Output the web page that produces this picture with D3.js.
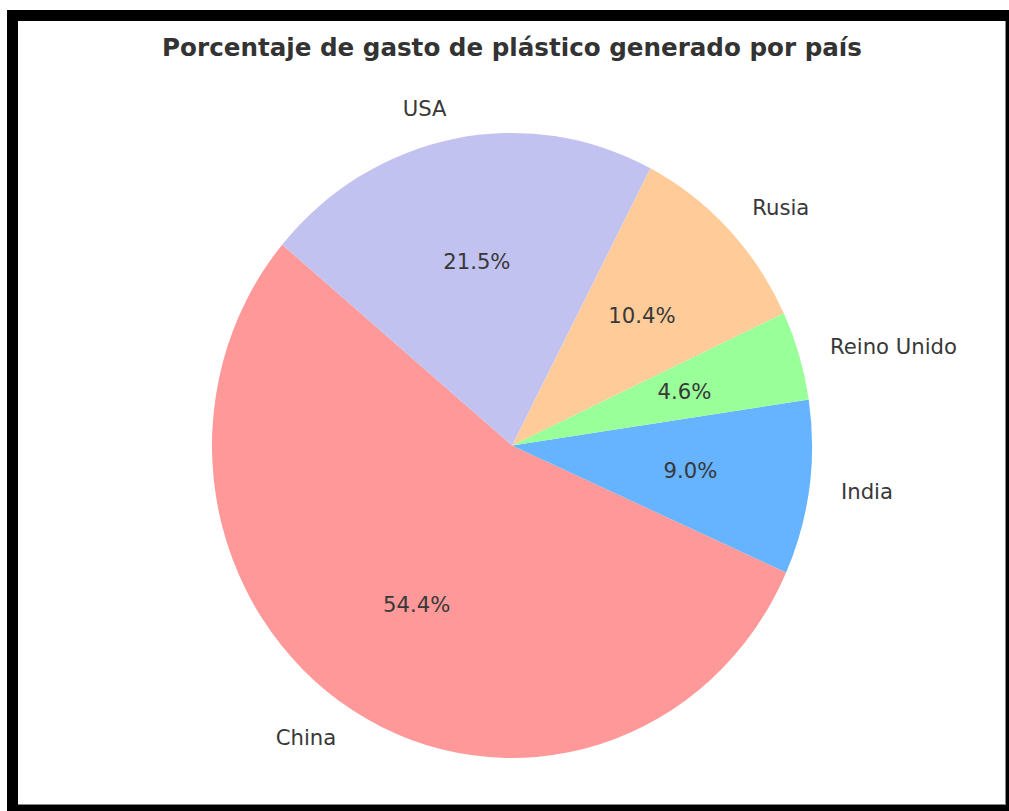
<!DOCTYPE html>
<html>
<head>
<meta charset="utf-8">
<script src="https://cdn.jsdelivr.net/npm/d3@7"></script>
<style>
html, body { margin: 0; padding: 0; background: #fff; }
svg { display: block; }
text { font-family: "DejaVu Sans", sans-serif; }
</style>
</head>
<body>
<script>
const title = "Porcentaje de gasto de plástico generado por país";
const categories = ["China", "India", "Reino Unido", "Rusia", "USA"];
const values = [54.4, 9.0, 4.6, 10.4, 21.5];
const colors = ["#ff9999", "#66b3ff", "#99ff99", "#ffcc99", "#c2c2f0"];
const startAngleDeg = 140;

const W = 1009, H = 811;
const svg = d3.select("body").append("svg").attr("width", W).attr("height", H);

// frame
svg.append("rect").attr("x", 7).attr("y", 10).attr("width", W - 7).attr("height", H - 10).attr("fill", "#000");
svg.append("rect").attr("x", 18).attr("y", 21).attr("width", 987).attr("height", 783).attr("fill", "#fff");
svg.append("line").attr("x1", 1005.5).attr("x2", 1005.5).attr("y1", 21).attr("y2", 805).attr("stroke", "#888").attr("stroke-width", 1);
svg.append("line").attr("x1", 18).attr("x2", 1006).attr("y1", 804.5).attr("y2", 804.5).attr("stroke", "#888").attr("stroke-width", 1);

const cx = 512, cy = 445.5, rx = 300, ry = 312.5;
const sy = ry / rx;

// matplotlib: counterclockwise from startangle; d3.pie: clockwise from 12 o'clock.
const pie = d3.pie().sort(null).value(d => d)
  .startAngle((90 - startAngleDeg) * Math.PI / 180)
  .endAngle((90 - startAngleDeg - 360) * Math.PI / 180);
const arcs = pie(values);
const arc = d3.arc().innerRadius(0).outerRadius(rx);

const g = svg.append("g").attr("transform", `translate(${cx},${cy}) scale(1,${sy})`);
g.selectAll("path").data(arcs).join("path")
  .attr("d", arc)
  .attr("fill", (d, i) => colors[i]);

arcs.forEach((a, i) => {
  const mid = (a.startAngle + a.endAngle) / 2;
  const ux = Math.sin(mid), uy = -Math.cos(mid);
  const lx = cx + 1.1 * rx * ux + (ux < 0 ? -1 : 2), ly = cy + 1.1 * ry * uy;
  svg.append("text")
    .attr("x", lx).attr("y", ly)
    .attr("text-anchor", ux < 0 ? "end" : "start")
    .attr("dominant-baseline", "central")
    .attr("font-size", 21.2).attr("fill", "#383838")
    .text(categories[i]);
  const px = cx + 0.6 * rx * ux, py = cy + 0.6 * ry * uy;
  svg.append("text")
    .attr("x", px).attr("y", py)
    .attr("text-anchor", "middle")
    .attr("dominant-baseline", "central")
    .attr("font-size", 21.2).attr("fill", "#383838")
    .text(values[i].toFixed(1) + "%");
});

svg.append("text")
  .attr("x", 512).attr("y", 47)
  .attr("text-anchor", "middle")
  .attr("dominant-baseline", "central")
  .attr("font-size", 24.6).attr("font-weight", "bold").attr("fill", "#333")
  .text(title);
</script>
</body>
</html>
